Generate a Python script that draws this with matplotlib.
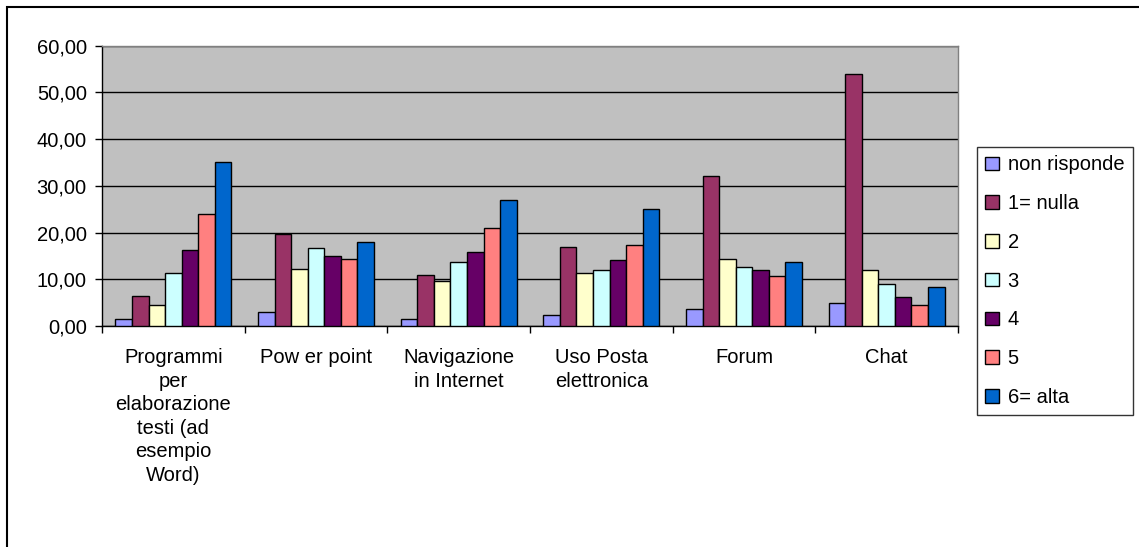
import numpy as np
import matplotlib
matplotlib.use("Agg")
import matplotlib.pyplot as plt
from matplotlib.patches import Rectangle
from matplotlib.ticker import FuncFormatter

plt.rcParams['font.family'] = ['Liberation Sans', 'DejaVu Sans']

# categories (x axis)
categories = ["Programmi\nper\nelaborazione\ntesti (ad\nesempio\nWord)",
              "Pow er point",
              "Navigazione\nin Internet",
              "Uso Posta\nelettronica",
              "Forum",
              "Chat"]

# series
series_names = ["non risponde", "1= nulla", "2", "3", "4", "5", "6= alta"]
non_risponde = [1.6, 2.9, 1.6, 2.4, 3.7, 4.9]
nulla_1 = [6.4, 19.6, 11.0, 17.0, 32.1, 54.0]
val_2 = [4.6, 12.3, 9.7, 11.4, 14.4, 11.9]
val_3 = [11.4, 16.6, 13.6, 11.9, 12.7, 8.9]
val_4 = [16.2, 14.9, 15.8, 14.1, 11.9, 6.3]
val_5 = [23.9, 14.4, 20.9, 17.4, 10.6, 4.6]
alta_6 = [35.0, 17.9, 26.9, 25.1, 13.6, 8.4]

colors = ["#9999FF", "#993366", "#FFFFCC", "#CCFFFF", "#660066", "#FF8080", "#0066CC"]

data = [non_risponde, nulla_1, val_2, val_3, val_4, val_5, alta_6]

FS = 14.5

fig = plt.figure(figsize=(11.39, 5.47), dpi=100)
ax = fig.add_axes([0.0896, 0.404, 0.841 - 0.0896, 0.9165 - 0.404])
ax.set_facecolor("#C0C0C0")

n = len(series_names)
x = np.arange(len(categories))
group_w = 0.813
w = group_w / n
for i in range(n):
    ax.bar(x - group_w / 2 + w * (i + 0.5), data[i], width=w, color=colors[i],
           edgecolor="black", linewidth=1.0, label=series_names[i], zorder=3)

ax.set_xlim(-0.5, len(categories) - 0.5)
ax.set_ylim(0, 60)
ax.set_yticks(np.arange(0, 61, 10))
ax.yaxis.set_major_formatter(FuncFormatter(lambda v, p: ("%.2f" % v).replace(".", ",")))
ax.yaxis.grid(True, color="black", linewidth=1.0, zorder=1)
ax.set_axisbelow(True)

# category labels between boundary ticks
ax.set_xticks(np.arange(len(categories) + 1) - 0.5)
ax.set_xticklabels([])
ax.set_xticks(x, minor=True)
ax.set_xticklabels(categories, minor=True, fontsize=FS, linespacing=1.3, ha="center", va="top")
ax.tick_params(axis="x", which="minor", length=0, pad=16)
ax.tick_params(axis="x", which="major", length=5, width=1, direction="out", color="black")
ax.tick_params(axis="y", length=5, width=1, direction="out", labelsize=FS, pad=6)

for s in ["left", "bottom"]:
    ax.spines[s].set_color("black")
    ax.spines[s].set_linewidth(1.0)
for s in ["top", "right"]:
    ax.spines[s].set_color("#808080")
    ax.spines[s].set_linewidth(1.0)

leg = fig.legend(loc="upper left", bbox_to_anchor=(977 / 1139, 1 - 147 / 547),
                 fontsize=FS, frameon=True, fancybox=False, edgecolor="black",
                 handlelength=0.65, handleheight=0.65, handletextpad=0.45,
                 labelspacing=0.98, borderpad=0.42, borderaxespad=0)
leg.get_frame().set_linewidth(1.0)
for h in leg.legend_handles:
    h.set_linewidth(1.0)

# outer chart border
fig.patches.append(Rectangle((7 / 1139, -0.02), 1.02, 1 - 7 / 547 + 0.02,
                             transform=fig.transFigure, fill=False,
                             edgecolor="black", linewidth=1.5))

fig.savefig("out.png", dpi=100)
